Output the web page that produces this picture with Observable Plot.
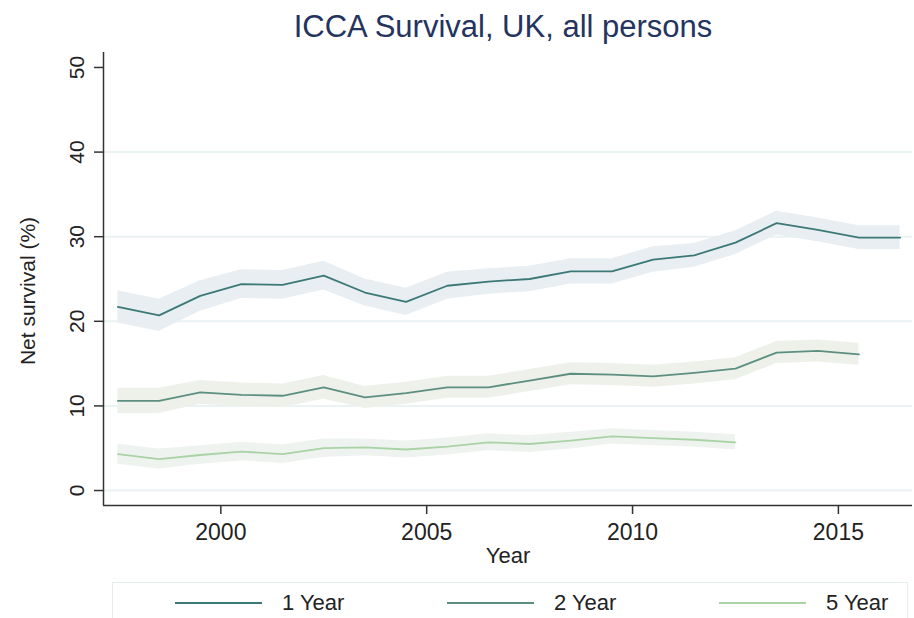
<!DOCTYPE html>
<html><head><meta charset="utf-8">
<script src="https://cdn.jsdelivr.net/npm/d3@7"></script>
<script src="https://cdn.jsdelivr.net/npm/@observablehq/plot@0.6"></script>
<style>
html,body{margin:0;padding:0;background:#fff;}
body{width:914px;height:618px;overflow:hidden;position:relative;font-family:"Liberation Sans",Arial,sans-serif;}
#title{position:absolute;left:103px;width:800px;top:11px;text-align:center;font-size:31px;line-height:31px;color:#24345f;}
#chart{position:absolute;left:0;top:48px;}
#legend{position:absolute;left:112px;top:582px;width:794px;height:60px;border:1.5px solid #e5eded;background:#fff;}
#legend .row{position:absolute;left:62px;top:8px;height:24px;display:flex;}
#legend .item{width:272px;display:flex;align-items:center;font-size:22px;color:#222;}
#legend .sw{width:87px;height:2px;margin-right:20px;}
</style></head><body>
<div id="title">ICCA Survival, UK, all persons</div>
<div id="chart"></div>
<div id="legend"><div class="row" id="legrow"></div></div>
<script>
// ---- data ----
const series = ["1 Year", "2 Year", "5 Year"];
const colors = ["#3c7976", "#5d8f81", "#a9d3a6"];
const bandColors = ["#e8eef2", "#edf1ea", "#eff3ef"];

const years1 = [1997.5,1998.5,1999.5,2000.5,2001.5,2002.5,2003.5,2004.5,2005.5,2006.5,2007.5,2008.5,2009.5,2010.5,2011.5,2012.5,2013.5,2014.5,2015.5,2016.5];
const oneYear = [21.7,20.7,23.0,24.4,24.3,25.4,23.4,22.3,24.2,24.7,25.0,25.9,25.9,27.3,27.8,29.3,31.6,30.8,29.9,29.9];
const oneYearCI = [1.9,1.9,1.8,1.7,1.7,1.7,1.6,1.6,1.6,1.5,1.5,1.5,1.5,1.5,1.4,1.4,1.4,1.4,1.4,1.4];

const years2 = [1997.5,1998.5,1999.5,2000.5,2001.5,2002.5,2003.5,2004.5,2005.5,2006.5,2007.5,2008.5,2009.5,2010.5,2011.5,2012.5,2013.5,2014.5,2015.5];
const twoYear = [10.6,10.6,11.6,11.3,11.2,12.2,11.0,11.5,12.2,12.2,13.0,13.8,13.7,13.5,13.9,14.4,16.3,16.5,16.1];
const twoYearCI = [1.5,1.5,1.4,1.4,1.4,1.4,1.3,1.3,1.3,1.3,1.3,1.3,1.3,1.3,1.3,1.3,1.3,1.3,1.3];

const years5 = [1997.5,1998.5,1999.5,2000.5,2001.5,2002.5,2003.5,2004.5,2005.5,2006.5,2007.5,2008.5,2009.5,2010.5,2011.5,2012.5];
const fiveYear = [4.3,3.7,4.2,4.6,4.3,5.0,5.1,4.85,5.2,5.7,5.5,5.9,6.4,6.2,6.0,5.7];
const fiveYearCI = [1.2,1.2,1.1,1.1,1.1,1.1,1.0,1.0,1.0,1.0,1.0,1.0,0.9,0.9,0.9,0.9];

const xTicks = [2000, 2005, 2010, 2015];
const yTicks = [0, 10, 20, 30, 40, 50];
const yGrid = [0, 10, 20, 30, 40];
const xDomain = [1997.15, 2016.8];
const yDomain = [-1.77, 51.77];

// ---- build tables ----
function table(name, years, vals, ci) {
  return years.map((yr, i) => ({series: name, year: yr, value: vals[i], lo: vals[i] - ci[i], hi: vals[i] + ci[i]}));
}
const tables = [
  table(series[0], years1, oneYear, oneYearCI),
  table(series[1], years2, twoYear, twoYearCI),
  table(series[2], years5, fiveYear, fiveYearCI)
];

const font = "Liberation Sans, Arial, sans-serif";
const marks = [
  Plot.ruleY(yGrid, {stroke: "#eaf2f3", strokeWidth: 2})
];
tables.forEach((t, i) => marks.push(Plot.areaY(t, {x: "year", y1: "lo", y2: "hi", fill: bandColors[i]})));
tables.forEach((t, i) => marks.push(Plot.lineY(t, {x: "year", y: "value", stroke: colors[i], strokeWidth: 1.8})));
marks.push(
  Plot.ruleX([xDomain[0]], {stroke: "#333", strokeWidth: 1.5}),
  Plot.ruleY([yDomain[0]], {stroke: "#333", strokeWidth: 1.5}),
  Plot.axisX({ticks: xTicks, tickFormat: d => String(d), tickSize: 9, tickPadding: 9, fontSize: 23, label: null, stroke: "#333", strokeWidth: 1.5, fill: "#222"}),
  Plot.axisY({ticks: yTicks, tickFormat: d => String(d), tickRotate: -90, tickSize: 9, tickPadding: 11, fontSize: 21, label: null, stroke: "#333", strokeWidth: 1.5, fill: "#222"}),
  Plot.text(["Year"], {frameAnchor: "bottom", lineAnchor: "middle", textAnchor: "middle", dy: 50, fontSize: 22, fill: "#222"}),
  Plot.text(["Net survival (%)"], {frameAnchor: "left", textAnchor: "middle", lineAnchor: "middle", rotate: -90, dx: -75, dy: 12, fontSize: 21, fill: "#222"})
);

const chart = Plot.plot({
  width: 914, height: 522,
  marginTop: 4, marginBottom: 65, marginLeft: 103, marginRight: 2,
  x: {domain: xDomain},
  y: {domain: yDomain},
  style: {fontFamily: font, background: "white", overflow: "visible"},
  marks
});
document.getElementById("chart").append(chart);

// ---- legend ----
const row = document.getElementById("legrow");
series.forEach((s, i) => {
  const it = document.createElement("div");
  it.className = "item";
  const sw = document.createElement("div");
  sw.className = "sw";
  sw.style.background = colors[i];
  const tx = document.createElement("span");
  tx.textContent = s;
  it.append(sw, tx);
  row.append(it);
});
</script>
</body></html>
